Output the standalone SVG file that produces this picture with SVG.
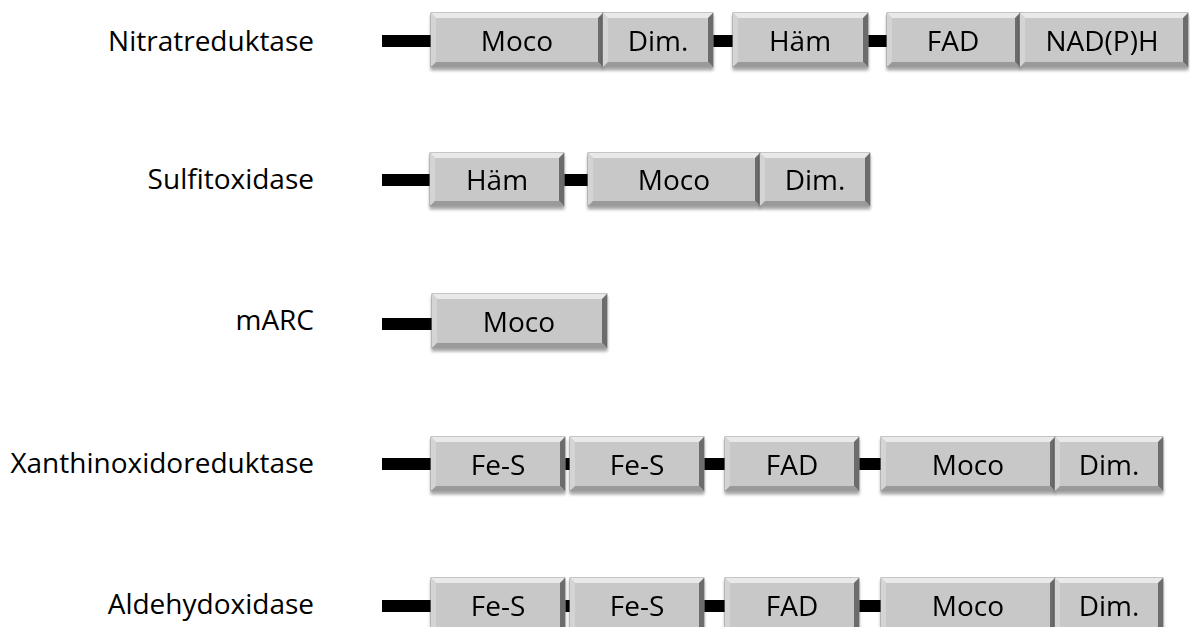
<svg xmlns="http://www.w3.org/2000/svg" width="1190" height="627" viewBox="0 0 1190 627">
<defs>
<filter id="sh" x="-5%" y="-10%" width="110%" height="130%">
<feGaussianBlur in="SourceAlpha" stdDeviation="1.5"/>
<feOffset dx="0" dy="3" result="o"/>
<feComponentTransfer><feFuncA type="linear" slope="0.35"/></feComponentTransfer>
<feMerge><feMergeNode/><feMergeNode in="SourceGraphic"/></feMerge>
</filter>
</defs>
<style>
.lbl{font-family:"Open Sans","Liberation Sans",sans-serif;font-size:28px;fill:#000;text-anchor:end}
.bt{font-family:"Open Sans","Liberation Sans",sans-serif;font-size:28px;fill:#000;text-anchor:middle}
.face{fill:#c8c8c8;stroke:#8c8c8c;stroke-width:1}
.bvT{fill:#e9e9e9}
.bvL{fill:#d4d4d4}
.bvR{fill:#6c6c6c}
.bvB{fill:#9a9a9a}
.ln{fill:#000}
.box{filter:url(#sh)}
</style>
<rect width="1190" height="627" fill="#fff"/>

<g id="labels">
<text class="lbl" x="314" y="51">Nitratreduktase</text>
<text class="lbl" x="314" y="189">Sulfitoxidase</text>
<text class="lbl" x="314" y="330">mARC</text>
<text class="lbl" x="314" y="473">Xanthinoxidoreduktase</text>
<text class="lbl" x="314" y="614">Aldehydoxidase</text>
</g>

<g id="connectors">
<rect class="ln" x="382" y="35" width="50" height="12"/>
<rect class="ln" x="712" y="35" width="22" height="12"/>
<rect class="ln" x="867" y="35" width="21" height="12"/>
<rect class="ln" x="382" y="174" width="49" height="12"/>
<rect class="ln" x="563" y="174" width="26" height="12"/>
<rect class="ln" x="382" y="318" width="51" height="12"/>
<rect class="ln" x="382" y="458" width="50" height="12"/>
<rect class="ln" x="564" y="458" width="7" height="12"/>
<rect class="ln" x="703" y="458" width="23" height="12"/>
<rect class="ln" x="858" y="458" width="24" height="12"/>
<rect class="ln" x="382" y="600" width="50" height="12"/>
<rect class="ln" x="564" y="600" width="7" height="12"/>
<rect class="ln" x="703" y="600" width="23" height="12"/>
<rect class="ln" x="858" y="600" width="24" height="12"/>
</g>

<!-- Row 1 -->
<g id="nr-moco" class="box"><rect class="face" x="431" y="13" width="172" height="54"/><path class="bvT" d="M431,13h172l-5,5H436z"/><path class="bvL" d="M431,13l5,5V62l-5,5z"/><path class="bvR" d="M603,13V67l-5,-5V18z"/><path class="bvB" d="M431,67H603l-5,-5H436z"/><text class="bt" x="517" y="51">Moco</text></g>
<g id="nr-dim" class="box"><rect class="face" x="603" y="13" width="110" height="54"/><path class="bvT" d="M603,13h110l-5,5H608z"/><path class="bvL" d="M603,13l5,5V62l-5,5z"/><path class="bvR" d="M713,13V67l-5,-5V18z"/><path class="bvB" d="M603,67H713l-5,-5H608z"/><text class="bt" x="658" y="51">Dim.</text></g>
<g id="nr-haem" class="box"><rect class="face" x="733" y="13" width="135" height="54"/><path class="bvT" d="M733,13h135l-5,5H738z"/><path class="bvL" d="M733,13l5,5V62l-5,5z"/><path class="bvR" d="M868,13V67l-5,-5V18z"/><path class="bvB" d="M733,67H868l-5,-5H738z"/><text class="bt" x="800" y="51">Häm</text></g>
<g id="nr-fad" class="box"><rect class="face" x="887" y="13" width="133" height="54"/><path class="bvT" d="M887,13h133l-5,5H892z"/><path class="bvL" d="M887,13l5,5V62l-5,5z"/><path class="bvR" d="M1020,13V67l-5,-5V18z"/><path class="bvB" d="M887,67H1020l-5,-5H892z"/><text class="bt" x="953" y="51">FAD</text></g>
<g id="nr-nadph" class="box"><rect class="face" x="1020" y="13" width="168" height="54"/><path class="bvT" d="M1020,13h168l-5,5H1025z"/><path class="bvL" d="M1020,13l5,5V62l-5,5z"/><path class="bvR" d="M1188,13V67l-5,-5V18z"/><path class="bvB" d="M1020,67H1188l-5,-5H1025z"/><text class="bt" x="1102" y="51">NAD(P)H</text></g>

<!-- Row 2 -->
<g id="so-haem" class="box"><rect class="face" x="430" y="153" width="134" height="53"/><path class="bvT" d="M430,153h134l-5,5H435z"/><path class="bvL" d="M430,153l5,5V201l-5,5z"/><path class="bvR" d="M564,153V206l-5,-5V158z"/><path class="bvB" d="M430,206H564l-5,-5H435z"/><text class="bt" x="497" y="190">Häm</text></g>
<g id="so-moco" class="box"><rect class="face" x="588" y="153" width="172" height="53"/><path class="bvT" d="M588,153h172l-5,5H593z"/><path class="bvL" d="M588,153l5,5V201l-5,5z"/><path class="bvR" d="M760,153V206l-5,-5V158z"/><path class="bvB" d="M588,206H760l-5,-5H593z"/><text class="bt" x="674" y="190">Moco</text></g>
<g id="so-dim" class="box"><rect class="face" x="760" y="153" width="110" height="53"/><path class="bvT" d="M760,153h110l-5,5H765z"/><path class="bvL" d="M760,153l5,5V201l-5,5z"/><path class="bvR" d="M870,153V206l-5,-5V158z"/><path class="bvB" d="M760,206H870l-5,-5H765z"/><text class="bt" x="815" y="190">Dim.</text></g>

<!-- Row 3 -->
<g id="marc-moco" class="box"><rect class="face" x="432" y="294" width="175" height="54"/><path class="bvT" d="M432,294h175l-5,5H437z"/><path class="bvL" d="M432,294l5,5V343l-5,5z"/><path class="bvR" d="M607,294V348l-5,-5V299z"/><path class="bvB" d="M432,348H607l-5,-5H437z"/><text class="bt" x="519" y="332">Moco</text></g>

<!-- Row 4 -->
<g id="xor-fes1" class="box"><rect class="face" x="431" y="437" width="134" height="54"/><path class="bvT" d="M431,437h134l-5,5H436z"/><path class="bvL" d="M431,437l5,5V486l-5,5z"/><path class="bvR" d="M565,437V491l-5,-5V442z"/><path class="bvB" d="M431,491H565l-5,-5H436z"/><text class="bt" x="498" y="475">Fe-S</text></g>
<g id="xor-fes2" class="box"><rect class="face" x="570" y="437" width="134" height="54"/><path class="bvT" d="M570,437h134l-5,5H575z"/><path class="bvL" d="M570,437l5,5V486l-5,5z"/><path class="bvR" d="M704,437V491l-5,-5V442z"/><path class="bvB" d="M570,491H704l-5,-5H575z"/><text class="bt" x="637" y="475">Fe-S</text></g>
<g id="xor-fad" class="box"><rect class="face" x="725" y="437" width="134" height="54"/><path class="bvT" d="M725,437h134l-5,5H730z"/><path class="bvL" d="M725,437l5,5V486l-5,5z"/><path class="bvR" d="M859,437V491l-5,-5V442z"/><path class="bvB" d="M725,491H859l-5,-5H730z"/><text class="bt" x="792" y="475">FAD</text></g>
<g id="xor-moco" class="box"><rect class="face" x="881" y="437" width="174" height="54"/><path class="bvT" d="M881,437h174l-5,5H886z"/><path class="bvL" d="M881,437l5,5V486l-5,5z"/><path class="bvR" d="M1055,437V491l-5,-5V442z"/><path class="bvB" d="M881,491H1055l-5,-5H886z"/><text class="bt" x="968" y="475">Moco</text></g>
<g id="xor-dim" class="box"><rect class="face" x="1055" y="437" width="108" height="54"/><path class="bvT" d="M1055,437h108l-5,5H1060z"/><path class="bvL" d="M1055,437l5,5V486l-5,5z"/><path class="bvR" d="M1163,437V491l-5,-5V442z"/><path class="bvB" d="M1055,491H1163l-5,-5H1060z"/><text class="bt" x="1109" y="475">Dim.</text></g>

<!-- Row 5 -->
<g id="ao-fes1" class="box"><rect class="face" x="431" y="578" width="134" height="54"/><path class="bvT" d="M431,578h134l-5,5H436z"/><path class="bvL" d="M431,578l5,5V627l-5,5z"/><path class="bvR" d="M565,578V632l-5,-5V583z"/><text class="bt" x="498" y="616">Fe-S</text></g>
<g id="ao-fes2" class="box"><rect class="face" x="570" y="578" width="134" height="54"/><path class="bvT" d="M570,578h134l-5,5H575z"/><path class="bvL" d="M570,578l5,5V627l-5,5z"/><path class="bvR" d="M704,578V632l-5,-5V583z"/><text class="bt" x="637" y="616">Fe-S</text></g>
<g id="ao-fad" class="box"><rect class="face" x="725" y="578" width="134" height="54"/><path class="bvT" d="M725,578h134l-5,5H730z"/><path class="bvL" d="M725,578l5,5V627l-5,5z"/><path class="bvR" d="M859,578V632l-5,-5V583z"/><text class="bt" x="792" y="616">FAD</text></g>
<g id="ao-moco" class="box"><rect class="face" x="881" y="578" width="174" height="54"/><path class="bvT" d="M881,578h174l-5,5H886z"/><path class="bvL" d="M881,578l5,5V627l-5,5z"/><path class="bvR" d="M1055,578V632l-5,-5V583z"/><text class="bt" x="968" y="616">Moco</text></g>
<g id="ao-dim" class="box"><rect class="face" x="1055" y="578" width="108" height="54"/><path class="bvT" d="M1055,578h108l-5,5H1060z"/><path class="bvL" d="M1055,578l5,5V627l-5,5z"/><path class="bvR" d="M1163,578V632l-5,-5V583z"/><text class="bt" x="1109" y="616">Dim.</text></g>
</svg>
